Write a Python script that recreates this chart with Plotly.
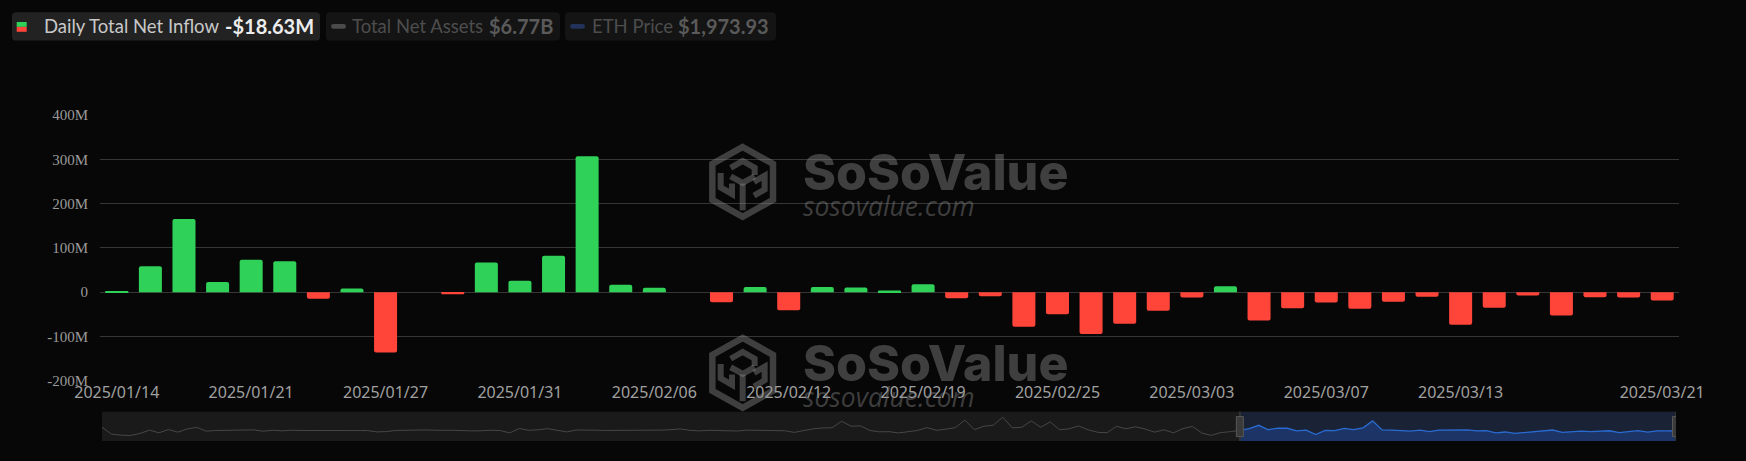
import plotly.graph_objects as go

# ---------------- data ----------------
DATES = ["2025/01/14", "2025/01/15", "2025/01/16", "2025/01/17", "2025/01/21", "2025/01/22",
         "2025/01/23", "2025/01/24", "2025/01/27", "2025/01/28", "2025/01/29", "2025/01/30",
         "2025/01/31", "2025/02/03", "2025/02/04", "2025/02/05", "2025/02/06", "2025/02/07",
         "2025/02/10", "2025/02/11", "2025/02/12", "2025/02/13", "2025/02/14", "2025/02/18",
         "2025/02/19", "2025/02/20", "2025/02/21", "2025/02/24", "2025/02/25", "2025/02/26",
         "2025/02/27", "2025/02/28", "2025/03/03", "2025/03/04", "2025/03/05", "2025/03/06",
         "2025/03/07", "2025/03/10", "2025/03/11", "2025/03/12", "2025/03/13", "2025/03/14",
         "2025/03/17", "2025/03/18", "2025/03/19", "2025/03/20", "2025/03/21"]

NET_INFLOW_M = [0.8, 58.4, 165.5, 23.0, 73.4, 69.7, -15.0, 8.2, -136.0, 0.0, -4.5, 67.0,
                26.0, 82.0, 307.0, 17.0, 10.0, 0.0, -22.5, 12.0, -41.0, 12.0, 10.5, 3.7,
                18.0, -13.5, -9.0, -78.0, -50.0, -94.5, -71.0, -42.0, -12.0, 13.5, -63.7, -36.0,
                -23.0, -37.5, -21.7, -10.5, -73.4, -35.0, -7.5, -52.5, -11.2, -12.0, -18.63]

# daily net inflow history before the visible window (2024/07/23 - 2025/01/13), shown in the zoom slider
HISTORY_M = [106, -120, -152, -163, -98, 10, -77, 27, -54, 49, 98, -24,
             -2, 2, 5, 24, 18, -25, 5, -13, 6, -2, 0, -5,
             -3, 0, -5, -2, -5, -47, -37, 0, -5, 10, 15, 0,
             1, 5, -13, -15, -10, 5, -5, -79, 62, 5, 20, 58,
             5, -49, 14, 0, 8, 0, 0, 0, -4, 0, 0, 10,
             24, 48, 2, -15, 5, -6, 2, -19, 10, 7, 4, -1,
             -10, -63, 0, 52, 80, 86, 295, 136, 147, -3, -45, -40,
             -81, -30, -1, 91, 3, 40, 90, 333, 24, 133, 168, 428,
             84, 102, 306, 102, 274, 23, 51, 145, 20, -60, -75, 131,
             54, 117, 47, -55, 20, -77, 59, 129, -87, -159, -69, -40]

X_TICKS = ["2025/01/14", "2025/01/21", "2025/01/27", "2025/01/31", "2025/02/06", "2025/02/12",
           "2025/02/19", "2025/02/25", "2025/03/03", "2025/03/07", "2025/03/13", "2025/03/21"]
Y_TICKS = [-200, -100, 0, 100, 200, 300, 400]
Y_TICK_TEXT = ["-200M", "-100M", "0", "100M", "200M", "300M", "400M"]

LEGEND_LABELS = ["Daily Total Net Inflow", "Total Net Assets", "ETH Price"]
LEGEND_VALUES = ["-$18.63M", "$6.77B", "$1,973.93"]

# ---------------- geometry helpers ----------------
W_FIG, H_FIG = 1746, 461
ML, MR, MT, MB = 100, 67, 115, 13
PW = W_FIG - ML - MR
PH = H_FIG - MT - MB


def X(px):
    return (px - ML) / PW


def Y(py):
    return (H_FIG - MB - py) / PH


def rrect(x0, y0, x1, y1, r):
    return (f"M{X(x0 + r)},{Y(y0)} L{X(x1 - r)},{Y(y0)} Q{X(x1)},{Y(y0)} {X(x1)},{Y(y0 + r)} "
            f"L{X(x1)},{Y(y1 - r)} Q{X(x1)},{Y(y1)} {X(x1 - r)},{Y(y1)} "
            f"L{X(x0 + r)},{Y(y1)} Q{X(x0)},{Y(y1)} {X(x0)},{Y(y1 - r)} "
            f"L{X(x0)},{Y(y0 + r)} Q{X(x0)},{Y(y0)} {X(x0 + r)},{Y(y0)} Z")


def poly(pts, close=False):
    s = "M" + " L".join(f"{X(a)},{Y(b)}" for a, b in pts)
    return s + (" Z" if close else "")


GREEN = "#30D158"
RED = "#FF453A"
BG = "#070707"
GRID = "#363636"

# pixel layout of the main plot and the zoom slider
MAIN_BOTTOM = 386.5
SLIDER_TOP, SLIDER_BOTTOM = 418, 448

fig = go.Figure()

# ---------------- main bars ----------------
bar_colors = [GREEN if v >= 0 else RED for v in NET_INFLOW_M]
fig.add_trace(go.Bar(x=DATES, y=NET_INFLOW_M, marker=dict(color=bar_colors, line=dict(width=0), cornerradius=2),
                     xaxis="x", yaxis="y", showlegend=False, hoverinfo="x+y"))

# ---------------- slider (data shadow) ----------------
series = HISTORY_M + NET_INFLOW_M
n = len(series)
idx = list(range(n))
mn, mx = min(series), max(series)
pad = (mx - mn) * 0.3
lo, hi = mn - pad, mx + pad
s0 = len(HISTORY_M)

fig.add_trace(go.Scatter(x=idx[:s0 + 1], y=series[:s0 + 1], mode="lines", line=dict(color="#474747", width=1),
                         xaxis="x2", yaxis="y2", showlegend=False, hoverinfo="skip"))
sel_x = idx[s0:]
sel_y = series[s0:]
fig.add_trace(go.Scatter(x=sel_x + [sel_x[-1], sel_x[0]], y=sel_y + [lo, lo], mode="lines", fill="toself",
                         fillcolor="#1c3466", line=dict(width=0), xaxis="x2", yaxis="y2",
                         showlegend=False, hoverinfo="skip"))
fig.add_trace(go.Scatter(x=sel_x, y=sel_y, mode="lines", line=dict(color="#2a6bd1", width=1.3),
                         xaxis="x2", yaxis="y2", showlegend=False, hoverinfo="skip"))

shapes = []
shapes.append(dict(type="rect", xref="x2 domain", yref="y2 domain", x0=0, x1=1, y0=0, y1=1,
                   fillcolor="#1a1a1a", line=dict(width=0), layer="below"))
shapes.append(dict(type="rect", xref="x2", yref="y2 domain", x0=s0, x1=n - 1, y0=0, y1=1,
                   fillcolor="#1a2336", line=dict(width=0), layer="below"))
for hx in (s0, n - 1):
    shapes.append(dict(type="line", xref="x2", yref="y2 domain", x0=hx, x1=hx, y0=0, y1=1,
                       line=dict(color="#333333", width=2)))
    shapes.append(dict(type="rect", xref="x2", yref="paper", xsizemode="pixel", xanchor=hx,
                       x0=-3.5, x1=3.5, y0=Y(SLIDER_BOTTOM - 4.5), y1=Y(SLIDER_TOP + 5), fillcolor="#3a3a3a",
                       line=dict(color="#575757", width=1)))

# ---------------- legend boxes ----------------
shapes.append(dict(type="path", xref="paper", yref="paper", path=rrect(12, 10, 320, 39, 4),
                   fillcolor="#222222", line=dict(width=0)))
shapes.append(dict(type="path", xref="paper", yref="paper", path=rrect(326, 10, 560, 39, 4),
                   fillcolor="#141414", line=dict(width=0)))
shapes.append(dict(type="path", xref="paper", yref="paper", path=rrect(565, 10, 776, 39, 4),
                   fillcolor="#141414", line=dict(width=0)))
shapes.append(dict(type="rect", xref="paper", yref="paper", x0=X(16.7), x1=X(26.7), y0=Y(25), y1=Y(20),
                   fillcolor=GREEN, line=dict(width=0)))
shapes.append(dict(type="rect", xref="paper", yref="paper", x0=X(16.7), x1=X(26.7), y0=Y(30), y1=Y(25),
                   fillcolor=RED, line=dict(width=0)))
shapes.append(dict(type="path", xref="paper", yref="paper", path=rrect(331, 22, 346, 27, 2.5),
                   fillcolor="#4a4a4a", line=dict(width=0)))
shapes.append(dict(type="path", xref="paper", yref="paper", path=rrect(570, 22, 585, 27, 2.5),
                   fillcolor="#22325a", line=dict(width=0)))

annotations = []
leg_label_x = [42, 350, 590]
leg_value_x = [223, 487, 676]
label_colors = ["#c8c8c8", "#4d4d4d", "#4d4d4d"]
value_colors = ["#ececec", "#5a5a5a", "#5a5a5a"]
for i in range(3):
    annotations.append(dict(text=LEGEND_LABELS[i], x=X(leg_label_x[i]), y=Y(24.5), xref="paper", yref="paper",
                            xanchor="left", yanchor="middle", showarrow=False,
                            font=dict(family="Lato", size=18.5, color=label_colors[i])))
    annotations.append(dict(text=LEGEND_VALUES[i], x=X(leg_value_x[i]), y=Y(24.5), xref="paper", yref="paper",
                            xanchor="left", yanchor="middle", showarrow=False,
                            font=dict(family="Lato", size=20, color=value_colors[i], weight=700)))

# ---------------- watermarks ----------------
WM = "rgba(140,140,140,0.42)"


def zp(pts, dy):
    return [(700 + a / 3, 135 + b / 3 + dy) for a, b in pts]


for dy in (0, 195):
    hexpts = [(128, 38), (219, 90), (219, 200), (128, 252), (37, 200), (37, 90)]
    shapes.append(dict(type="path", xref="paper", yref="paper", path=poly(zp(hexpts, dy), close=True),
                       line=dict(color=WM, width=6.5)))
    inner = [
        [(92, 102), (128, 81), (164, 102), (164, 124)],
        [(62, 118), (62, 162), (96, 182), (96, 150)],
        [(128, 150), (128, 232)],
        [(162, 145), (194, 126), (194, 168), (162, 187)],
        [(92, 128), (128, 148), (164, 128)],
    ]
    for seg in inner:
        shapes.append(dict(type="path", xref="paper", yref="paper", path=poly(zp(seg, dy)),
                           line=dict(color=WM, width=6)))
    annotations.append(dict(text="SoSoValue", x=X(801), y=Y(173 + dy), xref="paper", yref="paper",
                            xanchor="left", yanchor="middle", showarrow=False,
                            font=dict(family="Inter", size=50, color=WM, weight=800)))
    annotations.append(dict(text="sosovalue.com", x=X(801), y=Y(208 + dy), xref="paper", yref="paper",
                            xanchor="left", yanchor="middle", showarrow=False,
                            font=dict(family="Open Sans", size=26.5, color=WM, style="italic")))

fig.update_layout(
    width=W_FIG, height=H_FIG,
    margin=dict(l=ML, r=MR, t=MT, b=MB),
    paper_bgcolor=BG, plot_bgcolor=BG,
    bargap=0.315,
    showlegend=False,
    xaxis=dict(domain=[0, 1], anchor="y", type="category", tickmode="array", tickvals=X_TICKS,
               ticktext=X_TICKS, showgrid=False, zeroline=False, showline=False, ticks="",
               tickfont=dict(family="Noto Sans", size=16, color="#a0a0a0")),
    yaxis=dict(domain=[Y(MAIN_BOTTOM), 1], anchor="x", range=[-200, 400], tickmode="array", tickvals=Y_TICKS,
               ticktext=Y_TICK_TEXT, showgrid=True, gridcolor=GRID, gridwidth=1, zeroline=True,
               zerolinecolor=GRID, zerolinewidth=1, showline=False, ticks="outside", ticklen=8,
               tickcolor="rgba(0,0,0,0)",
               tickfont=dict(family="Liberation Serif", size=15, color="#9a9a9a")),
    xaxis2=dict(domain=[X(102), X(1676)], anchor="y2", range=[0, n - 1], visible=False),
    yaxis2=dict(domain=[Y(SLIDER_BOTTOM), Y(SLIDER_TOP)], anchor="x2", range=[lo, hi], visible=False),
    shapes=shapes,
    annotations=annotations,
)

fig.write_html("out.html", config={"displayModeBar": False},
               post_script="document.body.style.margin='0px';document.body.style.overflow='hidden';")
